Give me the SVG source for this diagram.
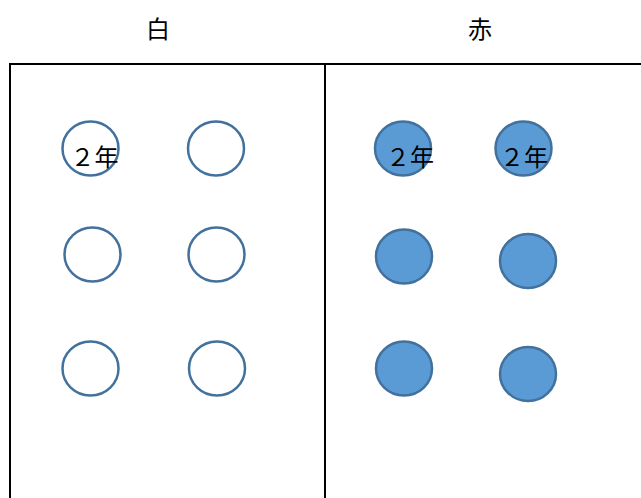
<svg xmlns="http://www.w3.org/2000/svg" width="641" height="498" viewBox="0 0 641 498">
<style>
.frame{fill:none;stroke:#000;stroke-width:2}
.w{fill:#fff;stroke:#41719C;stroke-width:2.5}
.b{fill:#5B9BD5;stroke:#41719C;stroke-width:2.5}
.t{font-family:"Noto Sans CJK JP","Noto Sans CJK SC",sans-serif;font-size:24px;fill:#000;text-anchor:middle}
.l{font-family:"Noto Sans CJK JP","Noto Sans CJK SC",sans-serif;font-size:24px;fill:#000;text-anchor:middle}
</style>
<rect fill="#fff" width="641" height="498"/>
<g id="titles">
<text class="t" x="158" y="38">白</text>
<text class="t" x="480" y="38">赤</text>
</g>
<g id="frame">
<rect class="frame" x="10" y="64" width="650" height="460"/>
<line class="frame" x1="325" y1="64" x2="325" y2="498"/>
</g>
<g id="white">
<g id="w1"><ellipse class="w" cx="90.5" cy="148.5" rx="28" ry="27"/><text class="l" x="94.5" y="166">２年</text></g>
<g id="w2"><ellipse class="w" cx="216" cy="148.5" rx="28" ry="27"/></g>
<g id="w3"><ellipse class="w" cx="92.5" cy="254.5" rx="28" ry="27"/></g>
<g id="w4"><ellipse class="w" cx="216.5" cy="254.5" rx="28" ry="27"/></g>
<g id="w5"><ellipse class="w" cx="90.5" cy="368.5" rx="28" ry="27"/></g>
<g id="w6"><ellipse class="w" cx="217" cy="368.5" rx="28" ry="27"/></g>
</g>
<g id="red">
<g id="r1"><ellipse class="b" cx="403" cy="148.5" rx="28" ry="27"/><text class="l" x="410" y="166">２年</text></g>
<g id="r2"><ellipse class="b" cx="523.5" cy="148.5" rx="28" ry="27"/><text class="l" x="524" y="166">２年</text></g>
<g id="r3"><ellipse class="b" cx="404" cy="256.5" rx="28" ry="27"/></g>
<g id="r4"><ellipse class="b" cx="528" cy="261" rx="28" ry="27"/></g>
<g id="r5"><ellipse class="b" cx="404" cy="368.5" rx="28" ry="27"/></g>
<g id="r6"><ellipse class="b" cx="528" cy="374" rx="28" ry="27"/></g>
</g>
</svg>
